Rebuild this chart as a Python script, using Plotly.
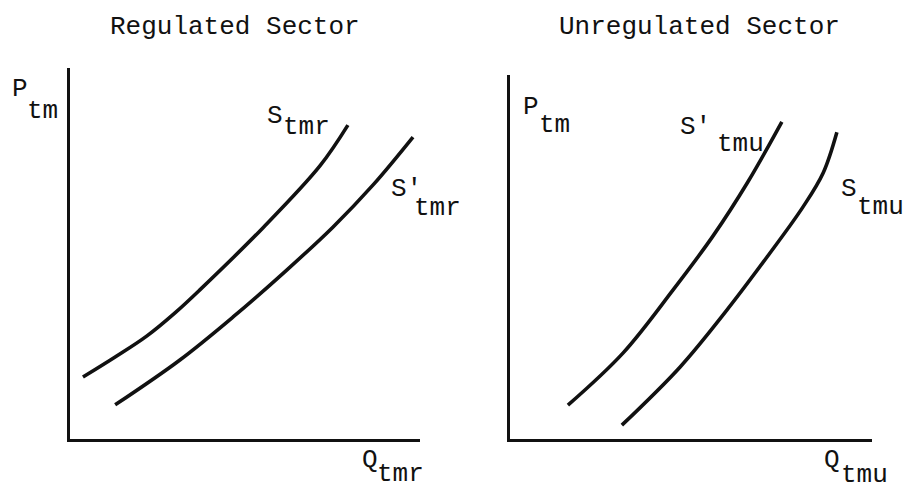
import plotly.graph_objects as go

W, H = 905, 489

# ---- data (panel units 0..10) ----
q_s_tmr = [0.37, 1.29, 2.20, 3.00, 3.71, 5.51, 7.14, 7.94]
p_s_tmr = [1.67, 2.21, 2.78, 3.40, 4.02, 5.69, 7.36, 8.46]

q_s2_tmr = [1.29, 3.14, 4.66, 6.20, 7.51, 8.66, 9.80]
p_s2_tmr = [0.92, 2.13, 3.29, 4.56, 5.71, 6.85, 8.14]

q_s2_tmu = [1.60, 3.12, 4.50, 5.61, 6.57, 7.51]
p_s2_tmu = [0.93, 2.36, 4.09, 5.58, 7.06, 8.71]

q_s_tmu = [3.09, 4.70, 5.99, 7.10, 8.09, 8.65, 9.03]
p_s_tmu = [0.38, 1.98, 3.54, 5.00, 6.37, 7.31, 8.43]

titles = ["Regulated Sector", "Unregulated Sector"]

# ---- figure ----
fig = go.Figure()
ink = "#111111"
line_style = dict(color=ink, width=3.6, shape="spline", smoothing=1.0)

for xs, ys, xa, ya in [(q_s_tmr, p_s_tmr, "x", "y"), (q_s2_tmr, p_s2_tmr, "x", "y"),
                       (q_s2_tmu, p_s2_tmu, "x2", "y2"), (q_s_tmu, p_s_tmu, "x2", "y2")]:
    fig.add_trace(go.Scatter(x=xs, y=ys, mode="lines", line=line_style,
                             xaxis=xa, yaxis=ya, showlegend=False, hoverinfo="skip"))

ax = dict(range=[0, 10], showline=True, linewidth=3, linecolor=ink, showgrid=False,
          zeroline=False, showticklabels=False, ticks="", fixedrange=True)

def px_x(px):
    return px / W

def px_y(py):
    return 1 - py / H

fig.update_layout(
    width=W, height=H, margin=dict(l=0, r=0, t=0, b=0),
    paper_bgcolor="white", plot_bgcolor="white",
    xaxis=dict(ax, domain=[px_x(70), px_x(420)], anchor="y"),
    yaxis=dict(ax, domain=[px_y(439), px_y(68)], anchor="x"),
    xaxis2=dict(ax, domain=[px_x(510), px_x(872)], anchor="y2"),
    yaxis2=dict(ax, domain=[px_y(439), px_y(75)], anchor="x2"),
)

FONT = "Liberation Mono"
FS = 26

def label(text, x, y, anchor="left", size=FS):
    fig.add_annotation(text=text, x=px_x(x), y=px_y(y), xref="paper", yref="paper",
                       xanchor=anchor, yanchor="middle", showarrow=False,
                       font=dict(family=FONT, size=size, color=ink))

# titles
label(titles[0], 235, 27, anchor="center")
label(titles[1], 699, 27, anchor="center")

# left panel labels
label("P", 10, 89)
label("tm", 25, 111)
label("S", 265, 116)
label("tmr", 281, 127)
label("S'", 389, 189)
label("tmr", 412, 208)
label("Q", 360, 460)
label("tmr", 375, 474)

# right panel labels
label("P", 521, 107)
label("tm", 537, 125)
label("S'", 678, 127)
label("tmu", 715, 144)
label("S", 839, 189)
label("tmu", 855, 207)
label("Q", 822, 460)
label("tmu", 839, 475)

fig.write_html("out.html", config={"displayModeBar": False},
               post_script="document.body.style.margin='0px';document.body.style.overflow='hidden';")
